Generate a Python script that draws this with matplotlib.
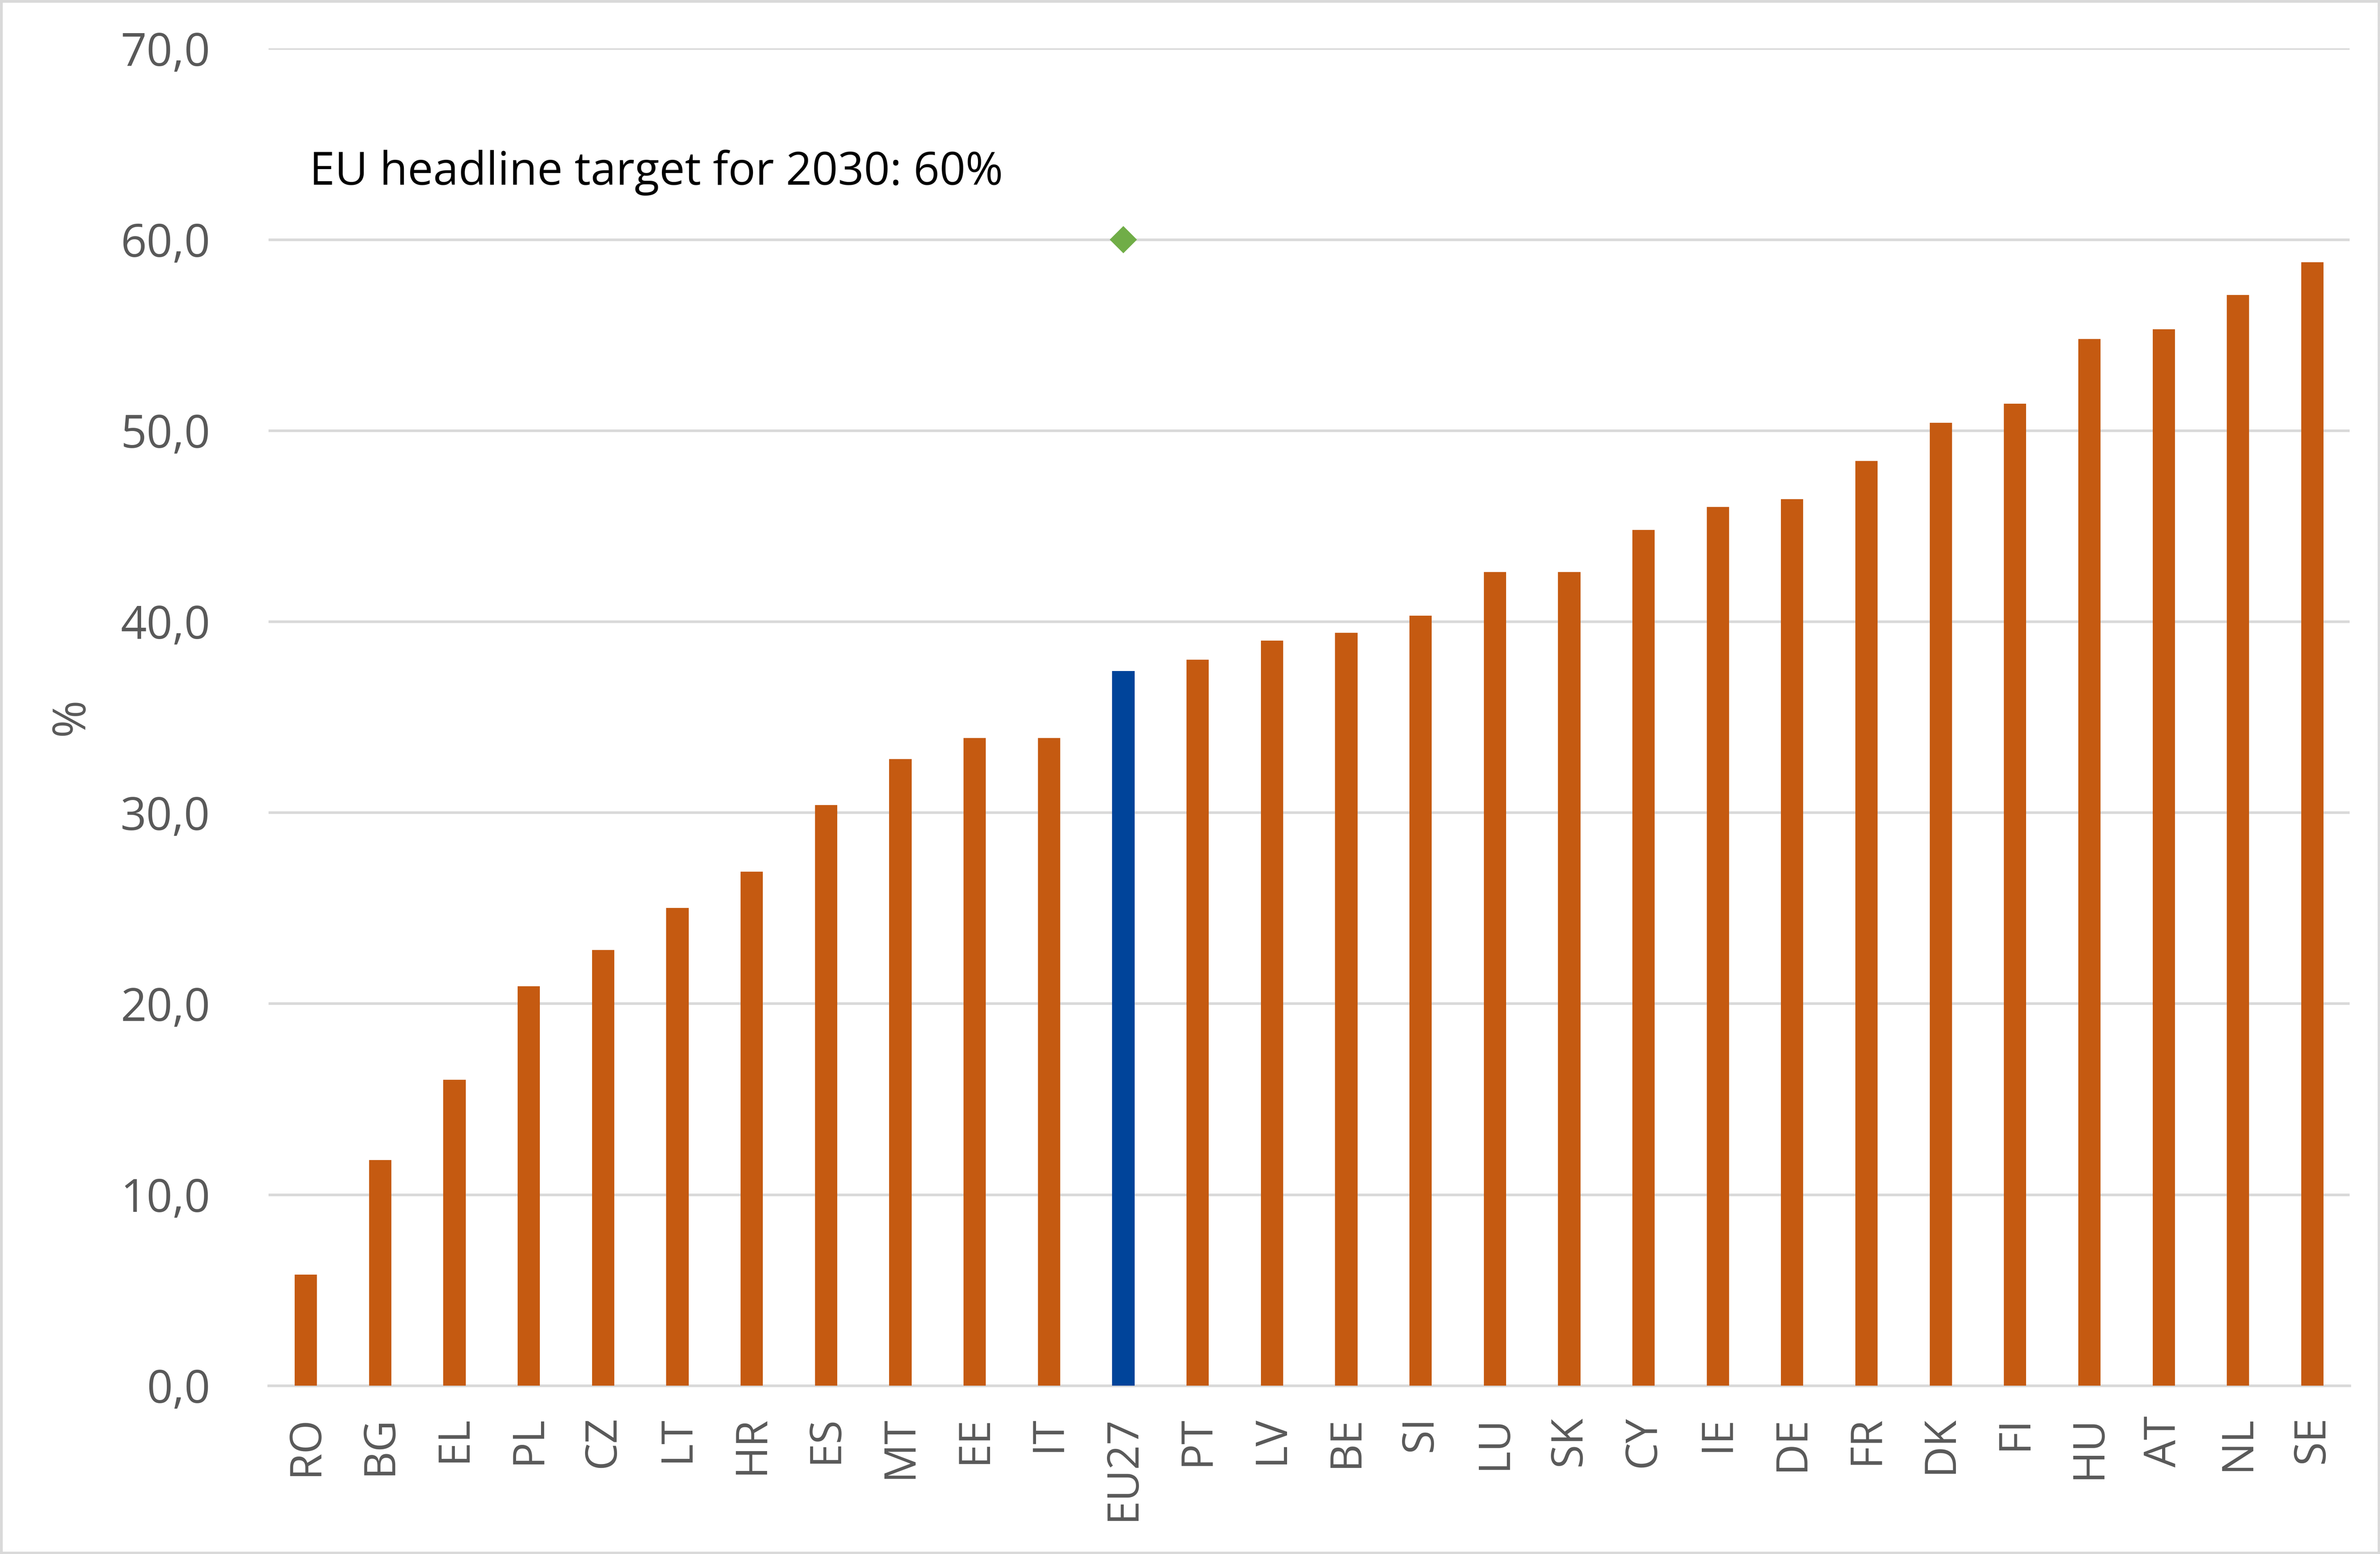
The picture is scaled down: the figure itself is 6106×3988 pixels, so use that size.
import numpy as np
import matplotlib.pyplot as plt

countries = ['RO', 'BG', 'EL', 'PL', 'CZ', 'LT', 'HR', 'ES', 'MT', 'EE', 'IT', 'EU27',
             'PT', 'LV', 'BE', 'SI', 'LU', 'SK', 'CY', 'IE', 'DE', 'FR', 'DK', 'FI',
             'HU', 'AT', 'NL', 'SE']
values = [5.8, 11.8, 16.0, 20.9, 22.8, 25.0, 26.9, 30.4, 32.8, 33.9, 33.9, 37.4,
          38.0, 39.0, 39.4, 40.3, 42.6, 42.6, 44.8, 46.0, 46.4, 48.4, 50.4, 51.4,
          54.8, 55.3, 57.1, 58.8]
target_label = 'EU27'
target_value = 60.0
yticks = [0, 10, 20, 30, 40, 50, 60, 70]

plt.rcParams['font.family'] = ['Open Sans', 'DejaVu Sans']

orange = '#C55A11'
blue = '#00449A'
grey_txt = '#595959'
grid_c = '#D9D9D9'

fig = plt.figure(figsize=(6106 / 400, 3988 / 400), dpi=400)
fig.patch.set_edgecolor(grid_c)
fig.patch.set_linewidth(2)
ax = fig.add_axes([0.1129, 0.1084, 0.8743, 0.8604])

x = np.arange(len(countries))
colors = [blue if c == target_label else orange for c in countries]
ax.bar(x, values, width=0.3, color=colors, zorder=3)

ti = countries.index(target_label)
ax.plot([ti], [target_value], marker='D', color='#70AD47', markersize=8, linestyle='none', zorder=4)

ax.text(0.05, 63.5, 'EU headline target for 2030: 60%', fontsize=21, color='black',
        va='center', ha='left')

ax.set_xlim(-0.5, len(countries) - 0.5)
ax.set_ylim(0, 70)
ax.set_yticks(yticks)
ax.set_yticklabels([f'{v:.1f}'.replace('.', ',') for v in yticks], fontsize=21, color=grey_txt)
ax.set_xticks(x)
ax.set_xticklabels(countries, rotation=90, fontsize=20, color=grey_txt)
ax.tick_params(axis='y', length=0, pad=27)
ax.tick_params(axis='x', length=0, pad=14)

ax.grid(axis='y', color=grid_c, linewidth=1.2, zorder=0)
for s in ['top', 'right', 'left']:
    ax.spines[s].set_visible(False)
ax.spines['bottom'].set_color(grid_c)
ax.spines['bottom'].set_linewidth(1.2)

ax.set_ylabel('%', fontsize=21, color=grey_txt, labelpad=12)

fig.savefig('out.png', dpi=400)
